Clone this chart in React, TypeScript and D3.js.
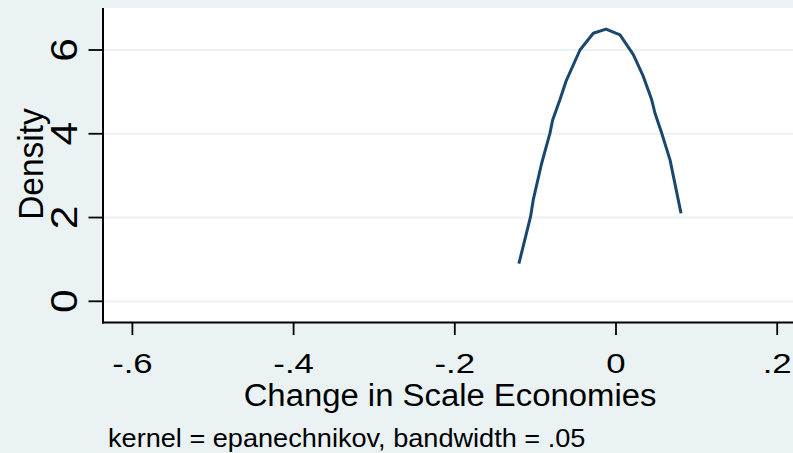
import React from "react";
import * as d3 from "d3";

// Kernel density estimate points (Change in Scale Economies vs Density)
const xValues = [-0.1205, -0.106, -0.1027, -0.0923, -0.082, -0.0786, -0.0696, -0.0621, -0.0447, -0.0282, -0.0124, 0.005, 0.0215, 0.0339, 0.0443, 0.0484, 0.0568, 0.0671, 0.0807];
const densityValues = [0.9, 2.02, 2.42, 3.29, 4.01, 4.33, 4.81, 5.25, 6.0, 6.4, 6.5, 6.36, 5.89, 5.37, 4.81, 4.49, 4.01, 3.37, 2.1];

const xTicks = [-0.6, -0.4, -0.2, 0, 0.2];
const xTickLabels = ["-.6", "-.4", "-.2", "0", ".2"];
const yTicks = [0, 2, 4, 6];
const yTickLabels = ["0", "2", "4", "6"];

const xTitle = "Change in Scale Economies";
const yTitle = "Density";
const note = "kernel = epanechnikov, bandwidth = .05";

const W = 793;
const H = 453;
const BG = "#eaf2f3";
const LINE = "#1a476f";
const FONT = "'Liberation Sans', Arial, Helvetica, sans-serif";

export default function App() {
  const plotLeft = 103;
  const plotRight = 797;
  const plotTop = 8;
  const plotBottom = 322.5;

  const x = d3.scaleLinear().domain([-0.6, 0.2]).range([132.4, 777.2]);
  const y = d3.scaleLinear().domain([0, 6]).range([301.3, 50]);

  const pts = xValues.map((v, i) => [v, densityValues[i]] as [number, number]);
  const line = d3
    .line<[number, number]>()
    .x((d) => x(d[0]))
    .y((d) => y(d[1]));

  return (
    <svg
      width={W}
      height={H}
      style={{ position: "absolute", left: 0, top: 0, display: "block" }}
      fontFamily={FONT}
    >
      <rect x={0} y={0} width={W} height={H} fill={BG} />
      <rect
        x={plotLeft}
        y={plotTop}
        width={plotRight - plotLeft}
        height={plotBottom - plotTop}
        fill="#ffffff"
      />
      {/* gridlines */}
      {yTicks.map((t) => (
        <line
          key={"g" + t}
          x1={plotLeft}
          x2={plotRight}
          y1={y(t)}
          y2={y(t)}
          stroke={BG}
          strokeWidth={2}
        />
      ))}
      {/* density curve */}
      <path
        d={line(pts) || ""}
        fill="none"
        stroke={LINE}
        strokeWidth={3}
        strokeLinejoin="round"
        strokeLinecap="butt"
      />
      {/* axes */}
      <line x1={plotLeft} x2={plotLeft} y1={plotTop} y2={plotBottom + 1} stroke="#000" strokeWidth={2} />
      <line x1={plotLeft - 1} x2={plotRight} y1={plotBottom} y2={plotBottom} stroke="#000" strokeWidth={2} />
      {/* y ticks */}
      {yTicks.map((t, i) => (
        <g key={"yt" + t}>
          <line x1={88.5} x2={plotLeft} y1={y(t)} y2={y(t)} stroke="#000" strokeWidth={1.8} />
          <text
            transform={`translate(77,${y(t)}) rotate(-90) scale(1.15,1)`}
            textAnchor="middle"
            fontSize={37}
            fill="#000"
          >
            {yTickLabels[i]}
          </text>
        </g>
      ))}
      {/* x ticks */}
      {xTicks.map((t, i) => (
        <g key={"xt" + t}>
          <line x1={x(t)} x2={x(t)} y1={plotBottom} y2={335} stroke="#000" strokeWidth={1.8} />
          <text
            transform={`translate(${x(t)},373) scale(1.22,1)`}
            textAnchor="middle"
            fontSize={28.5}
            fill="#000"
          >
            {xTickLabels[i]}
          </text>
        </g>
      ))}
      {/* axis titles */}
      <text
        transform={`translate(450,405.7) scale(1.06,1)`}
        textAnchor="middle"
        fontSize={31}
        fill="#000"
      >
        {xTitle}
      </text>
      <text
        transform={`translate(43,164) rotate(-90) scale(0.93,1)`}
        textAnchor="middle"
        fontSize={36}
        fill="#000"
      >
        {yTitle}
      </text>
      {/* note */}
      <text
        transform={`translate(108,446.7) scale(1.085,1)`}
        textAnchor="start"
        fontSize={25}
        fill="#000"
      >
        {note}
      </text>
    </svg>
  );
}
